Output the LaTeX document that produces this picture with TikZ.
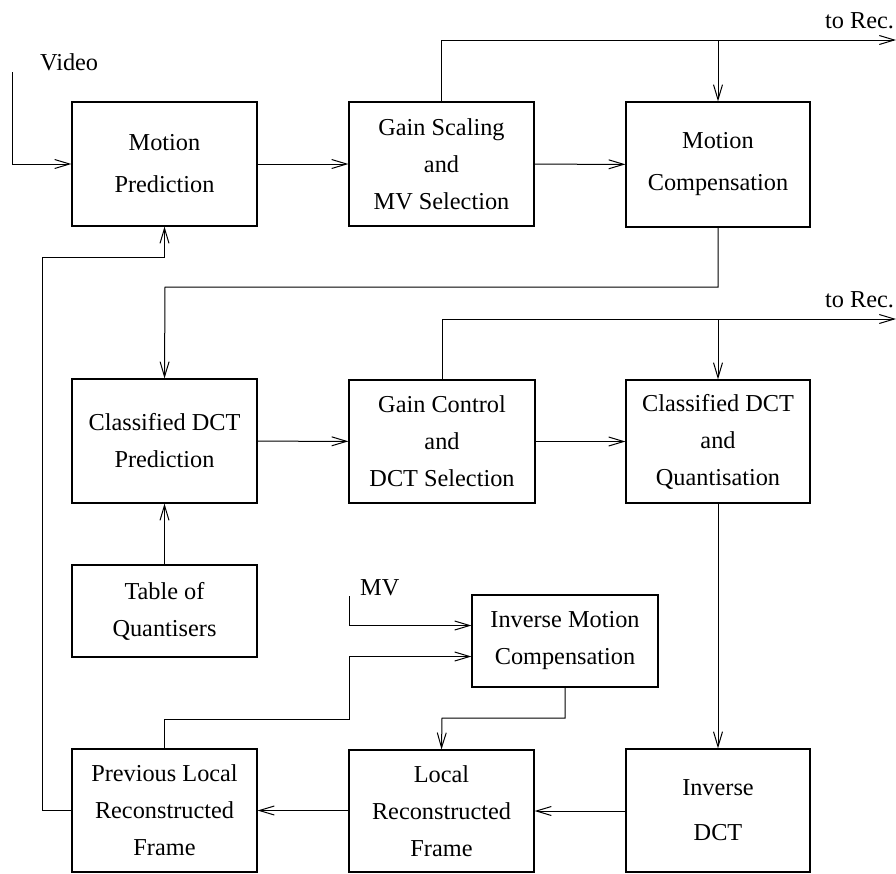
\documentclass[tikz,border=0pt]{standalone}
\usepackage{fontspec}
\setmainfont{Liberation Serif}
\usetikzlibrary{arrows.meta}
\begin{document}
\begin{tikzpicture}[x=1pt,y=-1pt,
  blk/.style={draw, line width=1.2pt, align=center, inner sep=0pt,
    font=\fontsize{24.3}{37}\selectfont},
  wide/.style={font=\fontsize{24.3}{42}\selectfont},
  lbl/.style={font=\fontsize{24.3}{29}\selectfont, inner sep=0pt},
  arr/.style={line width=1pt, -{Straight Barb[length=15pt,width=9pt,line width=1pt]}},
  ln/.style={line width=1pt}]
\useasboundingbox (0,0) rectangle (896,873);
% row 1
\node[blk, wide, minimum width=185pt, minimum height=124pt] (mp) at (164.5,164) {Motion\\Prediction};
\node[blk, minimum width=185pt, minimum height=124pt] (gs) at (441.5,164) {Gain Scaling\\and\\MV Selection};
\node[blk, wide, minimum width=184pt, minimum height=125pt] (mc) at (718,164.5) {Motion\\Compensation};
% row 2
\node[blk, minimum width=185pt, minimum height=124pt] (cp) at (164.5,441) {Classified DCT\\Prediction};
\node[blk, minimum width=186pt, minimum height=123pt] (gc) at (442,441.5) {Gain Control\\and\\DCT Selection};
\node[blk, minimum width=184pt, minimum height=123pt] (cq) at (718,441.5) {Classified DCT\\and\\Quantisation};
% row 3
\node[blk, minimum width=185pt, minimum height=92pt] (tq) at (164.5,611) {Table of\\Quantisers};
\node[blk, minimum width=186pt, minimum height=92pt] (imc) at (565,641) {Inverse Motion\\Compensation};
% row 4
\node[blk, minimum width=185pt, minimum height=123pt] (pl) at (164.5,810.5) {Previous Local\\Reconstructed\\Frame};
\node[blk, minimum width=185pt, minimum height=122pt] (lr) at (441.5,811) {Local\\Reconstructed\\Frame};
\node[blk, font=\fontsize{24.3}{45}\selectfont, minimum width=184pt, minimum height=123pt] (id) at (718,810.5) {Inverse\\DCT};
% labels
\node[lbl, anchor=base west] (video) at (40,70) {Video};
\node[lbl, anchor=base west] (rec1) at (825,28) {to Rec.};
\node[lbl, anchor=base west] (rec2) at (825,307) {to Rec.};
\node[lbl, anchor=base west] (mv) at (360,595) {MV};
% coordinates
\coordinate (vin) at (12,72);
\coordinate (out1) at (896,40);
\coordinate (out2) at (896,319);
\coordinate (k1) at (165,287);
\coordinate (fb) at (42,257);
\coordinate (mvs) at (349,596);
\coordinate (k3) at (349,719);
\coordinate (k4) at (442,718);
% connectors
\draw[arr] (vin) |- (mp.west);
\draw[arr] (mp) -- (gs);
\draw[arr] (gs) -- (mc);
\draw[arr] (gs.north) |- (out1);
\draw[arr] (mc.north |- out1) -- (mc.north);
\draw[arr] (mc.south) |- (k1) -- (cp.north);
\draw[arr] (cp) -- (gc);
\draw[arr] (gc) -- (cq);
\draw[arr] (gc.north) |- (out2);
\draw[arr] (cq.north |- out2) -- (cq.north);
\draw[arr] (tq.north) -- (cp.south);
\draw[arr] (cq.south) -- (id.north);
\draw[arr] (id.west |- lr.east) -- (lr.east);
\draw[arr] (lr.west |- pl.east) -- (pl.east);
\draw[arr] (pl.west) -| (fb) -| (mp.south);
\draw[arr] (mvs) |- ([yshift=15.5pt]imc.west);
\draw[arr] (pl.north) |- (k3) |- ([yshift=-15.5pt]imc.west);
\draw[arr] (imc.south |- imc.south) |- (k4) -- (lr.north);
\end{tikzpicture}
\end{document}
